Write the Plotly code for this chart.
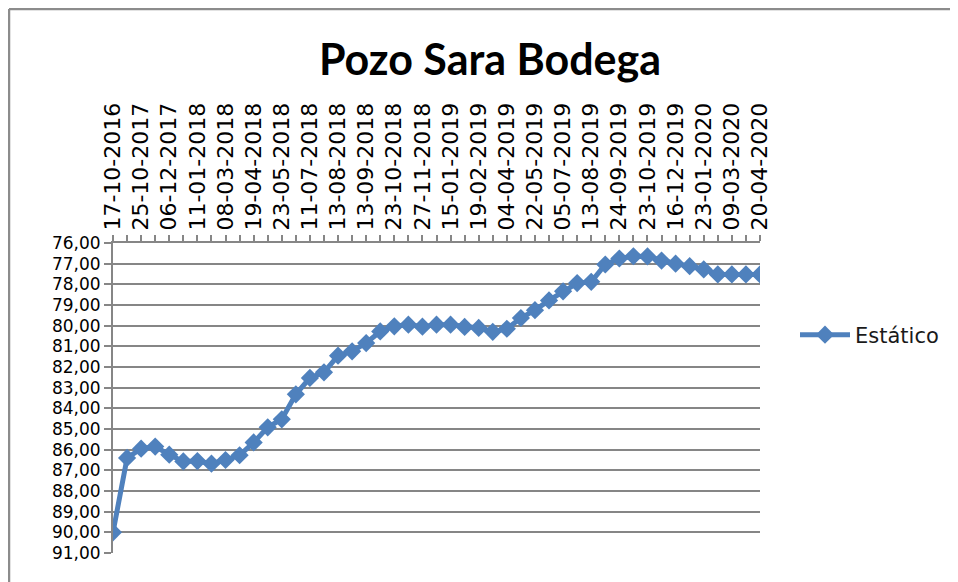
import plotly.graph_objects as go

# Data
values = [90.00, 86.40, 85.95, 85.85, 86.24, 86.57, 86.55, 86.68, 86.50, 86.27,
          85.65, 84.92, 84.53, 83.32, 82.53, 82.26, 81.45, 81.24, 80.84, 80.28,
          80.03, 79.95, 80.05, 79.95, 79.95, 80.06, 80.11, 80.30, 80.15, 79.63,
          79.25, 78.78, 78.34, 77.94, 77.88, 77.04, 76.75, 76.64, 76.65, 76.85,
          77.00, 77.12, 77.28, 77.52, 77.52, 77.52, 77.52]
tick_labels = ["17-10-2016", "25-10-2017", "06-12-2017", "11-01-2018", "08-03-2018",
               "19-04-2018", "23-05-2018", "11-07-2018", "13-08-2018", "13-09-2018",
               "23-10-2018", "27-11-2018", "15-01-2019", "19-02-2019", "04-04-2019",
               "22-05-2019", "05-07-2019", "13-08-2019", "24-09-2019", "23-10-2019",
               "16-12-2019", "23-01-2020", "09-03-2020", "20-04-2020"]
series_name = "Estático"
title_text = "Pozo Sara Bodega"

x_idx = list(range(len(values)))
tick_pos = list(range(0, len(values), 2))

OFF = 8  # page body margin
W, H = 958 - OFF, 582 - OFF
L, R, T, B = 113 - OFF, 958 - 760, 243 - OFF, 582 - 553
pw, ph = W - L - R, H - T - B

def px_x(p):
    return (p - OFF - L) / pw

def px_y(p):
    return (H - B - (p - OFF)) / ph

blue = "#4F81BD"
gray = "#868686"
font = "DejaVu Sans"

fig = go.Figure()
fig.add_trace(go.Scatter(
    x=x_idx, y=values, mode="lines+markers", name=series_name,
    line=dict(color=blue, width=5),
    marker=dict(symbol="diamond", size=14, color=blue),
))

fig.update_layout(
    width=W, height=H,
    margin=dict(l=L, r=R, t=T, b=B, autoexpand=False),
    paper_bgcolor="white", plot_bgcolor="white",
    separators=",.",
    title=dict(text=title_text, x=(490 - OFF) / W, xanchor="center",
               y=1 - (60 - OFF) / H, yanchor="middle",
               font=dict(family="Lato", size=43, color="black", weight="bold")),
    showlegend=True,
    legend=dict(x=px_x(795), y=px_y(335), xanchor="left", yanchor="middle",
                font=dict(family=font, size=21, color="#1a1a1a"),
                bgcolor="rgba(0,0,0,0)", itemwidth=50),
    xaxis=dict(
        range=[0, len(values) - 1], side="top",
        tickmode="array", tickvals=tick_pos, ticktext=tick_labels,
        tickangle=-90, tickfont=dict(family=font, size=22, color="black"),
        ticks="outside", ticklen=6, tickcolor=gray, tickwidth=1.5,
        minor=dict(tickmode="linear", tick0=0, dtick=1, ticks="outside", ticklen=6,
                   tickcolor=gray, tickwidth=1.5, showgrid=False),
        showline=True, linecolor=gray, linewidth=2,
        showgrid=False, zeroline=False,
    ),
    yaxis=dict(
        range=[91, 76], tickmode="linear", tick0=76, dtick=1, tickformat=".2f",
        tickfont=dict(family=font, size=17, color="black"),
        ticks="outside", ticklen=7, tickcolor=gray, tickwidth=1.5,
        showline=True, linecolor=gray, linewidth=2,
        showgrid=True, gridcolor=gray, gridwidth=1.5, zeroline=False,
    ),
    shapes=[
        dict(type="line", xref="paper", yref="paper", x0=px_x(9), x1=px_x(958),
             y0=px_y(9), y1=px_y(9), line=dict(color="#8c8c8c", width=2.5)),
        dict(type="line", xref="paper", yref="paper", x0=px_x(9), x1=px_x(9),
             y0=px_y(9), y1=px_y(582), line=dict(color="#8c8c8c", width=2.5)),
    ],
)

fig.write_html("out.html")
